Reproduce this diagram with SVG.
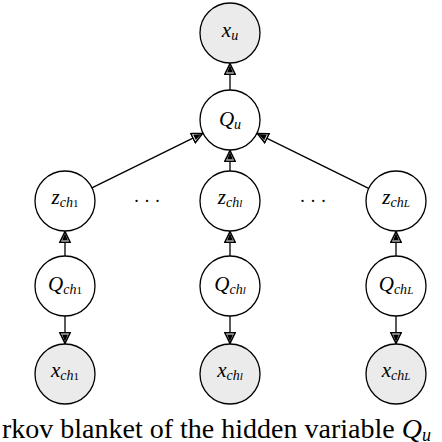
<svg xmlns="http://www.w3.org/2000/svg" width="442" height="442" viewBox="0 0 442 442">
<style>
.n{fill:#fff;stroke:#000;stroke-width:1.3}
.o{fill:#ebebeb;stroke:#000;stroke-width:1.3}
.e{stroke:#000;stroke-width:1.3;fill:none;marker-end:url(#ah)}
.l{font-family:'Liberation Serif','Times New Roman',serif;font-style:italic;font-size:21px;text-anchor:middle}
.s{font-size:14px}
.r{font-style:normal}
.d{font-family:'Liberation Serif','Times New Roman',serif;font-size:18px;text-anchor:middle}
.c{font-family:'Liberation Serif','Times New Roman',serif;font-size:28px}
</style>
<defs>
<marker id="ah" viewBox="0 0 12 12" refX="12" refY="6" markerWidth="12" markerHeight="12" markerUnits="userSpaceOnUse" orient="auto">
<path d="M0.8,0.9 L11.4,6 L0.8,11.1 Z" fill="#fff" stroke="#000" stroke-width="1.5"/>
<path d="M2.4,3 L9.8,6 L2.4,9 Z" fill="#000"/>
</marker>
</defs>
<g id="edges">
<line class="e" x1="230" y1="90" x2="230" y2="63"/>
<line class="e" x1="91.9" y1="187.8" x2="203.1" y2="133.2"/>
<line class="e" x1="230" y1="171" x2="230" y2="150"/>
<line class="e" x1="369.1" y1="188.7" x2="256.9" y2="133.3"/>
<line class="e" x1="65" y1="256" x2="65" y2="231"/>
<line class="e" x1="230" y1="256" x2="230" y2="231"/>
<line class="e" x1="396" y1="256" x2="396" y2="231"/>
<line class="e" x1="65" y1="316" x2="65" y2="344"/>
<line class="e" x1="230" y1="316" x2="230" y2="344"/>
<line class="e" x1="396" y1="316" x2="396" y2="344"/>
</g>
<g id="x_u"><circle class="o" cx="230" cy="33" r="30"/><text class="l" x="230" y="37">x<tspan class="s" dy="3">u</tspan></text></g>
<g id="Q_u"><circle class="n" cx="230" cy="120" r="30"/><text class="l" x="230" y="126">Q<tspan class="s" dy="3">u</tspan></text></g>
<g id="z_ch1"><circle class="n" cx="65" cy="201" r="30"/><text class="l" x="65" y="204">z<tspan class="s" dy="3">ch</tspan><tspan class="r" font-size="11">1</tspan></text></g>
<g id="z_chl"><circle class="n" cx="230" cy="201" r="30"/><text class="l" x="230" y="204">z<tspan class="s" dy="3">ch</tspan><tspan font-size="11">l</tspan></text></g>
<g id="z_chL"><circle class="n" cx="396" cy="201" r="30"/><text class="l" x="396" y="204">z<tspan class="s" dy="3">ch</tspan><tspan font-size="11">L</tspan></text></g>
<g id="Q_ch1"><circle class="n" cx="65" cy="286" r="30"/><text class="l" x="65" y="291">Q<tspan class="s" dy="3">ch</tspan><tspan class="r" font-size="11">1</tspan></text></g>
<g id="Q_chl"><circle class="n" cx="230" cy="286" r="30"/><text class="l" x="230" y="291">Q<tspan class="s" dy="3">ch</tspan><tspan font-size="11">l</tspan></text></g>
<g id="Q_chL"><circle class="n" cx="396" cy="286" r="30"/><text class="l" x="396" y="291">Q<tspan class="s" dy="3">ch</tspan><tspan font-size="11">L</tspan></text></g>
<g id="x_ch1"><circle class="o" cx="65" cy="374" r="30"/><text class="l" x="65" y="377">x<tspan class="s" dy="3">ch</tspan><tspan class="r" font-size="11">1</tspan></text></g>
<g id="x_chl"><circle class="o" cx="230" cy="374" r="30"/><text class="l" x="230" y="377">x<tspan class="s" dy="3">ch</tspan><tspan font-size="11">l</tspan></text></g>
<g id="x_chL"><circle class="o" cx="396" cy="374" r="30"/><text class="l" x="396" y="377">x<tspan class="s" dy="3">ch</tspan><tspan font-size="11">L</tspan></text></g>
<text class="d" x="147" y="207">· · ·</text>
<text class="d" x="313" y="207">· · ·</text>
<text class="c" x="2" y="438">rkov blanket of the hidden variable <tspan font-style="italic">Q</tspan><tspan font-style="italic" font-size="18" dy="3">u</tspan></text>
</svg>
